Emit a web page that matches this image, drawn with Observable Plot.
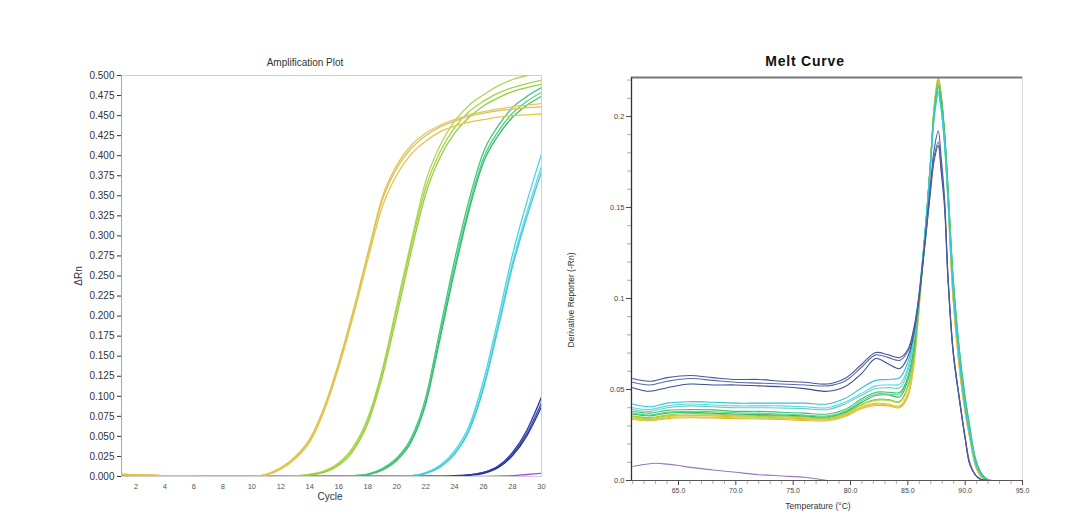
<!DOCTYPE html>
<html>
<head>
<meta charset="utf-8">
<script src="https://cdn.jsdelivr.net/npm/d3@7"></script>
<script src="https://cdn.jsdelivr.net/npm/@observablehq/plot@0.6"></script>
<style>
  html, body { margin: 0; padding: 0; background: #fff; }
  #wrap { position: relative; width: 1084px; height: 528px; overflow: hidden; background: #fff; font-family: "Liberation Sans", Arial, sans-serif; }
  .panel { position: absolute; top: 0; }
  .lbl { position: absolute; white-space: nowrap; color: #222; }
</style>
</head>
<body>
<div id="wrap">
  <div id="amp" class="panel" style="left:0px"></div>
  <div id="melt" class="panel" style="left:550px"></div>
  <div class="lbl" style="left:305px;top:57px;transform:translateX(-50%);font-size:10px;color:#333">Amplification Plot</div>
  <div class="lbl" style="left:330px;top:491px;transform:translateX(-50%);font-size:10px;color:#333">Cycle</div>
  <div class="lbl" style="left:78px;top:276px;transform:translate(-50%,-50%) rotate(-90deg);font-size:10px;color:#333">ΔRn</div>
  <div class="lbl" style="left:805px;top:53px;transform:translateX(-50%);font-size:14px;font-weight:bold;letter-spacing:0.8px;color:#111">Melt Curve</div>
  <div class="lbl" style="left:818px;top:501px;transform:translateX(-50%);font-size:8.5px;color:#333">Temperature (°C)</div>
  <div class="lbl" style="left:571px;top:300px;transform:translate(-50%,-50%) rotate(-90deg);font-size:8.5px;color:#333">Derivative Reporter (-Rn)</div>
</div>
<script>
// ---------------- Amplification plot data ----------------
const cycles = [1,2,3,4,5,6,7,8,9,10,11,12,13,14,15,16,17,18,19,20,21,22,23,24,25,26,27,28,29,30];

const yellowA = [0.003,0.002,0.002,0.001,0.001,0.0005,0,0,0,0,0.003,0.011,0.025,0.047,0.087,0.142,0.207,0.278,0.348,0.388,0.413,0.428,0.438,0.445,0.451,0.455,0.458,0.461,0.463,0.465];
const yellowB = [0.002,0.002,0.001,0.001,0.001,0,0,0,0,0,0.002,0.010,0.024,0.045,0.085,0.140,0.205,0.276,0.344,0.384,0.409,0.425,0.436,0.443,0.449,0.453,0.456,0.458,0.460,0.461];
const yellowC = [0.003,0.002,0.002,0.001,0,0,0,0,0,0,0.002,0.009,0.022,0.043,0.082,0.136,0.200,0.270,0.336,0.376,0.402,0.418,0.430,0.437,0.442,0.445,0.448,0.450,0.451,0.452];

const limeA = [0,0,0,0,0,0,0,0,0,0,0,0,0.001,0.003,0.007,0.017,0.037,0.073,0.133,0.213,0.293,0.368,0.413,0.443,0.463,0.476,0.487,0.495,0.500,0.505];
const limeB = [0,0,0,0,0,0,0,0,0,0,0,0,0,0.002,0.006,0.016,0.035,0.070,0.130,0.208,0.288,0.360,0.405,0.435,0.455,0.468,0.478,0.485,0.490,0.494];
const limeC = [0,0,0,0,0,0,0,0,0,0,0,0,0,0.002,0.005,0.014,0.032,0.066,0.124,0.200,0.280,0.352,0.398,0.428,0.448,0.462,0.472,0.480,0.485,0.489];

const greenA = [0,0,0,0,0,0,0,0,0,0,0,0,0,0,0,0,0.001,0.003,0.010,0.023,0.048,0.098,0.184,0.270,0.345,0.405,0.437,0.460,0.474,0.485];
const greenB = [0,0,0,0,0,0,0,0,0,0,0,0,0,0,0,0,0.001,0.003,0.009,0.021,0.045,0.093,0.177,0.262,0.337,0.397,0.430,0.453,0.468,0.479];
const greenC = [0,0,0,0,0,0,0,0,0,0,0,0,0,0,0,0,0,0.002,0.008,0.020,0.043,0.090,0.172,0.256,0.332,0.392,0.425,0.448,0.463,0.474];

const cyanA = [0,0,0,0,0,0,0,0,0,0,0,0,0,0,0,0,0,0,0,0,0.001,0.005,0.014,0.032,0.063,0.120,0.196,0.277,0.343,0.402];
const cyanB = [0,0,0,0,0,0,0,0,0,0,0,0,0,0,0,0,0,0,0,0,0.001,0.004,0.012,0.029,0.059,0.113,0.188,0.267,0.330,0.387];
const cyanC = [0,0,0,0,0,0,0,0,0,0,0,0,0,0,0,0,0,0,0,0,0.001,0.004,0.012,0.028,0.057,0.110,0.184,0.262,0.324,0.380];

const blueA = [0,0,0,0,0,0,0,0,0,0,0,0,0,0,0,0,0,0,0,0,0,0,0,0.001,0.002,0.005,0.013,0.030,0.058,0.099];
const blueB = [0,0,0,0,0,0,0,0,0,0,0,0,0,0,0,0,0,0,0,0,0,0,0,0.0005,0.002,0.005,0.012,0.028,0.054,0.092];
const blueC = [0,0,0,0,0,0,0,0,0,0,0,0,0,0,0,0,0,0,0,0,0,0,0,0,0.0015,0.004,0.011,0.026,0.051,0.087];

const purpleA = [0,0,0,0,0,0,0,0,0,0,0,0,0,0,0,0,0,0,0,0,0,0,0,0,0,0,0.0005,0.001,0.0025,0.004];

const ampSeries = [
  ["purpleA", purpleA, "#a050e0"],
  ["blueA", blueA, "#2838a0"], ["blueB", blueB, "#3848b4"], ["blueC", blueC, "#2030a0"],
  ["cyanA", cyanA, "#48d4e0"], ["cyanB", cyanB, "#60d8e4"], ["cyanC", cyanC, "#40c8d4"],
  ["greenA", greenA, "#40c878"], ["greenB", greenB, "#52cc90"], ["greenC", greenC, "#38b868"],
  ["limeA", limeA, "#b2d858"], ["limeB", limeB, "#a0d444"], ["limeC", limeC, "#98cc40"],
  ["yellowA", yellowA, "#e0c858"], ["yellowB", yellowB, "#d8c068"], ["yellowC", yellowC, "#e6c440"]
];

const ampYTicks = [0,0.025,0.05,0.075,0.1,0.125,0.15,0.175,0.2,0.225,0.25,0.275,0.3,0.325,0.35,0.375,0.4,0.425,0.45,0.475,0.5];
const ampXTicks = [2,4,6,8,10,12,14,16,18,20,22,24,26,28,30];

// ---------------- Melt curve data ----------------
const meltTemps = [61,62.5,64,66,68,70,72,74,76,78,79.5,81,82.2,83.3,84.3,85,85.5,85.9,86.3,86.7,87,87.3,87.65,87.9,88.2,88.5,88.95,89.5,90,90.4,90.9,91.4,92,95];

const mSlate1 = [0.056,0.0545,0.0565,0.0577,0.0565,0.0555,0.0555,0.0545,0.054,0.053,0.056,0.064,0.0703,0.069,0.0676,0.072,0.083,0.098,0.120,0.145,0.165,0.182,0.192,0.178,0.155,0.113,0.072,0.045,0.023,0.009,0.003,0.0005,0,0];
const mSlate2 = [0.054,0.0525,0.0545,0.056,0.055,0.054,0.0535,0.053,0.0525,0.052,0.0545,0.0625,0.069,0.0675,0.066,0.071,0.082,0.097,0.119,0.143,0.162,0.178,0.186,0.174,0.153,0.112,0.071,0.045,0.024,0.010,0.003,0.0005,0,0];
const mSlate3 = [0.051,0.049,0.051,0.053,0.0525,0.0525,0.052,0.0515,0.0505,0.049,0.0515,0.059,0.067,0.064,0.0615,0.068,0.080,0.096,0.118,0.142,0.160,0.176,0.184,0.170,0.150,0.110,0.070,0.044,0.023,0.009,0.003,0.0005,0,0];

const mCyan1 = [0.042,0.0405,0.0425,0.0433,0.043,0.0425,0.0425,0.0425,0.0425,0.042,0.045,0.051,0.055,0.0555,0.0566,0.065,0.079,0.098,0.123,0.152,0.176,0.200,0.214,0.205,0.185,0.155,0.105,0.066,0.040,0.025,0.010,0.003,0,0];
const mCyan2 = [0.040,0.039,0.041,0.042,0.0415,0.041,0.041,0.041,0.0405,0.040,0.043,0.048,0.052,0.0525,0.053,0.062,0.077,0.097,0.122,0.151,0.175,0.199,0.212,0.204,0.184,0.154,0.104,0.066,0.040,0.025,0.010,0.003,0,0];
const mCyan3 = [0.039,0.038,0.040,0.041,0.0405,0.040,0.040,0.0398,0.0395,0.039,0.042,0.047,0.0505,0.051,0.051,0.060,0.076,0.096,0.122,0.151,0.176,0.200,0.213,0.205,0.186,0.156,0.106,0.067,0.041,0.026,0.010,0.003,0,0];

const mGreen1 = [0.038,0.037,0.0385,0.039,0.0388,0.038,0.038,0.0375,0.037,0.0365,0.039,0.045,0.0485,0.0485,0.0485,0.057,0.072,0.095,0.121,0.151,0.177,0.202,0.216,0.209,0.190,0.160,0.110,0.070,0.044,0.028,0.011,0.004,0,0];
const mGreen2 = [0.037,0.036,0.0375,0.038,0.0378,0.0372,0.037,0.0365,0.036,0.0355,0.038,0.044,0.0475,0.0475,0.0475,0.056,0.071,0.094,0.121,0.151,0.177,0.203,0.218,0.210,0.191,0.161,0.111,0.071,0.045,0.029,0.012,0.004,0.0005,0];
const mGreen3 = [0.0365,0.0355,0.037,0.0375,0.037,0.0365,0.0362,0.036,0.0355,0.035,0.0375,0.043,0.0467,0.047,0.046,0.055,0.070,0.093,0.120,0.150,0.176,0.202,0.217,0.210,0.192,0.162,0.112,0.072,0.046,0.030,0.012,0.004,0.0005,0];

const mLime1 = [0.0355,0.0345,0.036,0.0368,0.0365,0.036,0.0358,0.0355,0.035,0.0345,0.037,0.042,0.0445,0.0445,0.0435,0.052,0.067,0.092,0.121,0.151,0.178,0.205,0.220,0.212,0.190,0.158,0.106,0.066,0.041,0.026,0.010,0.003,0,0];
const mLime2 = [0.035,0.034,0.0355,0.036,0.036,0.0355,0.0352,0.035,0.0345,0.034,0.0365,0.0415,0.044,0.044,0.043,0.051,0.066,0.091,0.120,0.150,0.177,0.204,0.219,0.211,0.190,0.158,0.107,0.067,0.042,0.026,0.010,0.003,0,0];

const mYellow1 = [0.0345,0.0335,0.035,0.0357,0.0355,0.035,0.0348,0.0345,0.034,0.0338,0.036,0.0405,0.0425,0.042,0.041,0.048,0.064,0.090,0.120,0.152,0.178,0.206,0.222,0.213,0.190,0.155,0.100,0.062,0.038,0.024,0.008,0.002,0,0];
const mYellow2 = [0.034,0.033,0.0345,0.035,0.0348,0.0345,0.0342,0.034,0.0335,0.0332,0.0355,0.040,0.0418,0.0415,0.0405,0.047,0.063,0.089,0.119,0.151,0.177,0.205,0.221,0.212,0.189,0.154,0.100,0.062,0.038,0.024,0.008,0.002,0,0];
const mYellow3 = [0.0335,0.0328,0.034,0.0345,0.0343,0.034,0.0338,0.0335,0.033,0.0328,0.035,0.0395,0.0412,0.041,0.040,0.046,0.062,0.088,0.118,0.150,0.176,0.204,0.220,0.211,0.188,0.153,0.099,0.061,0.037,0.023,0.008,0.002,0,0];

const purpleTemps = [61,62,63,64,65,66,68,70,72,74,76,77,78];
const mPurple = [0.0077,0.0088,0.0095,0.009,0.0082,0.0072,0.0058,0.0045,0.0032,0.0025,0.0018,0.001,0];

const meltSeries = [
  ["mYellow3", mYellow3, "#e8b820"], ["mYellow2", mYellow2, "#dcc850"], ["mYellow1", mYellow1, "#e4c030"],
  ["mLime2", mLime2, "#a8d850"], ["mLime1", mLime1, "#94cc38"],
  ["mGreen3", mGreen3, "#30b860"], ["mGreen2", mGreen2, "#58d090"], ["mGreen1", mGreen1, "#40c070"],
  ["mCyan3", mCyan3, "#68ccc0"], ["mCyan2", mCyan2, "#5ad8e0"], ["mCyan1", mCyan1, "#30c4d4"],
  ["mSlate3", mSlate3, "#3c4c90"], ["mSlate2", mSlate2, "#5a6aa8"], ["mSlate1", mSlate1, "#4858a0"]
];

const meltYTicks = [0, 0.05, 0.1, 0.15, 0.2];
const meltYMinor = [0.01,0.02,0.03,0.04,0.06,0.07,0.08,0.09,0.11,0.12,0.13,0.14,0.16,0.17,0.18,0.19,0.21,0.22];
const meltXTicks = [65, 70, 75, 80, 85, 90, 95];
const meltXMinor = [61,62,63,64,66,67,68,69,71,72,73,74,76,77,78,79,81,82,83,84,86,87,88,89,91,92,93,94];

// ---------------- Build tables ----------------
const ampRows = [];
for (const [id, vals, color] of ampSeries) {
  vals.forEach((v, i) => ampRows.push({id, color, cycle: cycles[i], v}));
}
const meltRows = [];
for (const [id, vals, color] of meltSeries) {
  vals.forEach((v, i) => meltRows.push({id, color, t: meltTemps[i], v}));
}
const purpleRows = mPurple.map((v, i) => ({id: "mPurple", color: "#9a78b8", t: purpleTemps[i], v}));

const font = {fontFamily: "'Liberation Sans', Arial, sans-serif", background: "transparent", overflow: "visible"};

// ---------------- Amplification plot ----------------
const amp = Plot.plot({
  width: 550, height: 528,
  marginLeft: 121, marginRight: 9, marginTop: 75, marginBottom: 52,
  style: font,
  x: {domain: [1, 30]},
  y: {domain: [0, 0.5]},
  color: {type: "identity"},
  marks: [
    Plot.frame({stroke: "#d0d0d0"}),
    Plot.ruleX([1], {stroke: "#a8a8a8"}),
    Plot.axisY({ticks: ampYTicks, tickFormat: d3.format(".3f"), tickSize: 4, tickPadding: 3, fontSize: 10, color: "#333", label: null}),
    Plot.axisX({ticks: ampXTicks, tickFormat: d => String(d), tickSize: 0, tickPadding: 7, fontSize: 7.5, color: "#555", label: null}),
    Plot.line(ampRows, {x: "cycle", y: "v", z: "id", stroke: "color", strokeWidth: 1.3, curve: "monotone-x", clip: true})
  ]
});
document.getElementById("amp").appendChild(amp);

// ---------------- Melt curve ----------------
const yTop = 0.2214;
const melt = Plot.plot({
  width: 534, height: 528,
  marginLeft: 81, marginRight: 62, marginTop: 77, marginBottom: 48,
  style: font,
  x: {domain: [60.9, 95]},
  y: {domain: [0, yTop]},
  color: {type: "identity"},
  marks: [
    Plot.ruleX([95], {stroke: "#d8d8d8"}),
    Plot.axisY({ticks: meltYMinor, tickFormat: () => "", tickSize: 4, color: "#aaa", label: null}),
    Plot.axisY({ticks: meltYTicks, tickFormat: d => d === 0 ? "0.0" : String(d), tickSize: 5, tickPadding: 2, fontSize: 7.5, color: "#444", label: null}),
    Plot.axisX({ticks: meltXMinor, tickFormat: () => "", tickSize: 4, color: "#aaa", label: null}),
    Plot.axisX({ticks: meltXTicks, tickFormat: d => d.toFixed(1), tickSize: 5, tickPadding: 3, fontSize: 7, color: "#444", label: null}),
    Plot.line(purpleRows, {x: "t", y: "v", stroke: "color", strokeWidth: 1.1, curve: "catmull-rom"}),
    Plot.line(meltRows, {x: "t", y: "v", z: "id", stroke: "color", strokeWidth: 1.1, curve: "catmull-rom", clip: true}),
    Plot.ruleY([yTop], {stroke: "#777", strokeWidth: 2}),
    Plot.ruleX([60.9], {stroke: "#333", strokeWidth: 1.3}),
    Plot.ruleY([0], {stroke: "#555", strokeWidth: 1.2})
  ]
});
document.getElementById("melt").appendChild(melt);
</script>
</body>
</html>
